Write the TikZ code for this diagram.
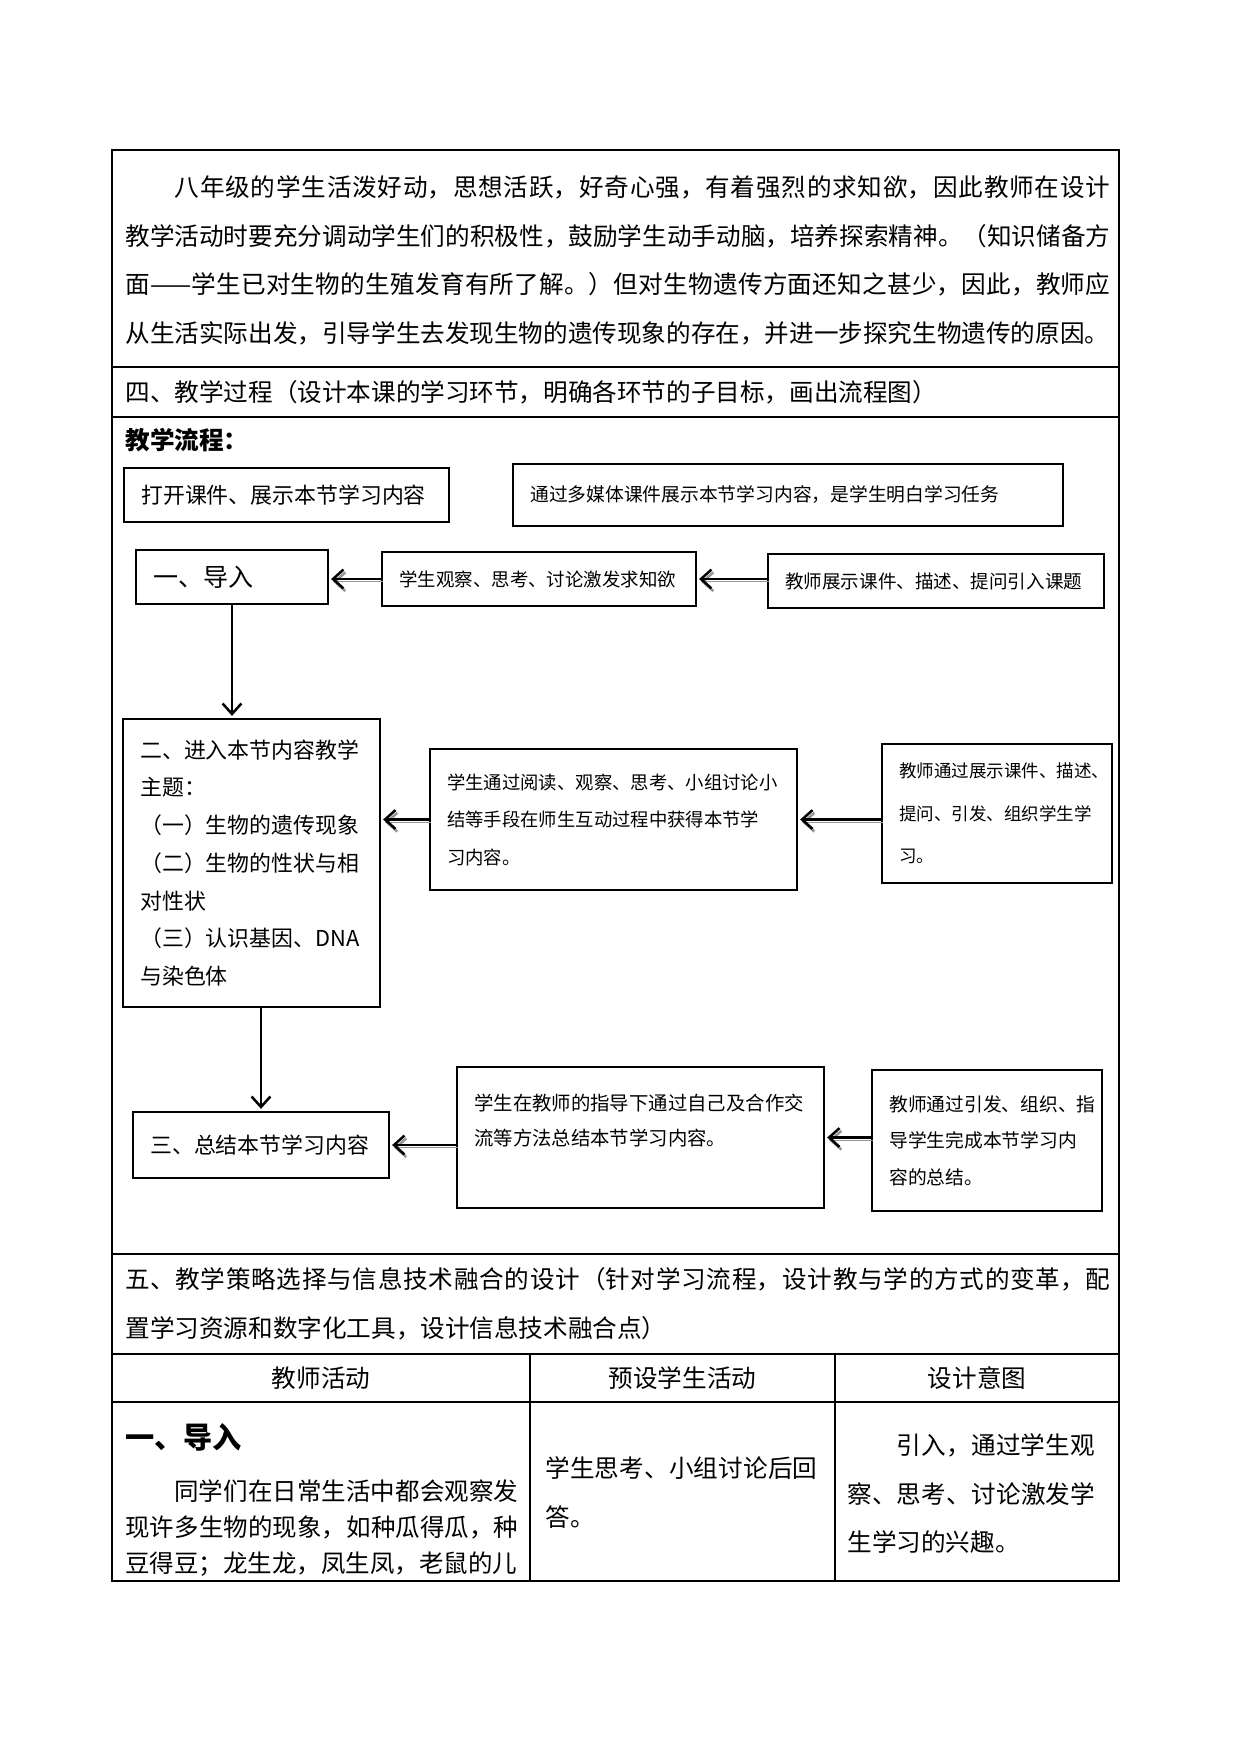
\documentclass[tikz,border=0pt]{standalone}
\usepackage{fontspec}
\setmainfont{Noto Sans CJK SC}
\usepackage{tikz}
\usetikzlibrary{arrows.meta, positioning}
\definecolor{shade}{RGB}{150,150,150}
\newcommand{\zhjust}{\XeTeXlinebreaklocale "zh"\XeTeXlinebreakskip=0pt plus 3pt\relax}

\begin{document}
\begin{tikzpicture}[x=0.4797pt, y=-0.4797pt,
  grid/.style={line width=0.8pt},
  body/.style={anchor=north west, inner sep=0pt, align=justify, font=\fontsize{11.8}{23.3}\selectfont\zhjust},
  hline/.style={anchor=west, inner sep=0pt, font=\fontsize{11.8}{14}\selectfont},
  head/.style={inner sep=0pt, font=\fontsize{11.8}{14}\selectfont},
  flowbox/.style={draw, line width=1pt, align=left, inner xsep=8.3pt, inner ysep=0pt},
  flowarrow/.style={-{Straight Barb[length=5pt,width=9pt,line width=1.2pt]}, line width=1.4pt, shorten >=1pt,
    preaction={draw=shade, transform canvas={xshift=0.9pt,yshift=-1.3pt}}},
  downarrow/.style={-{Straight Barb[length=5pt,width=9pt,line width=1.2pt]}, line width=1.2pt, shorten >=1pt},
]
  % page
  \path[fill=white] (0,0) rectangle (1241,1754);

  % table frame
  \draw[grid] (112,150) rectangle (1119,1581);
  \foreach \y in {367,417,1254,1354,1402}
    \draw[grid] (112,\y) -- (1119,\y);
  \foreach \x in {530,835}
    \draw[grid] (\x,1354) -- (\x,1581);

  % learner analysis
  \node[body, text width=472.5pt] (xueqing) at (125,175.4) {\noindent\hspace*{2em}八年级的学生活泼好动，思想活跃，好奇心强，有着强烈的求知欲，因此教师在设计\linebreak 教学活动时要充分调动学生们的积极性，鼓励学生动手动脑，培养探索精神。（知识储备方\linebreak 面——学生已对生物的生殖发育有所了解。）但对生物遗传方面还知之甚少，因此，教师应\linebreak 从生活实际出发，引导学生去发现生物的遗传现象的存在，并进一步探究生物遗传的原因。};

  % section four
  \node[hline] (guocheng) at (125,392) {四、教学过程（设计本课的学习环节，明确各环节的子目标，画出流程图）};
  \node[hline, font=\fontsize{11.8}{14}\selectfont\bfseries] (liucheng) at (125,440) {教学流程：};

  % flow chart, first row
  \node[flowbox, text width=139.3pt, minimum height=25.9pt, font=\fontsize{10.5}{12}\selectfont] (kaishi) at (286.5,495) {打开课件、展示本节学习内容};
  \node[flowbox, text width=247.2pt, minimum height=29.7pt, font=\fontsize{9}{11}\selectfont] (meiti) at (788,495) {通过多媒体课件展示本节学习内容，是学生明白学习任务};

  % flow chart, step one
  \node[flowbox, text width=75.5pt, minimum height=25.9pt, font=\fontsize{12}{14}\selectfont] (daoru) at (232,577) {一、导入};
  \node[flowbox, text width=134pt, minimum height=25.9pt, font=\fontsize{8.85}{11}\selectfont] (guancha) at (539,579) {学生观察、思考、讨论激发求知欲};
  \node[flowbox, text width=144.6pt, minimum height=25.9pt, font=\fontsize{8.9}{11}\selectfont] (zhanshi) at (936,581) {教师展示课件、描述、提问引入课题};

  % flow chart, step two
  \node[flowbox, text width=106.7pt, minimum height=138.2pt, font=\fontsize{10.5}{18.1}\selectfont] (zhuti) at (251.5,863) {二、进入本节内容教学\\主题：\\（一）生物的遗传现象\\（二）生物的性状与相\\对性状\\（三）认识基因、DNA\\与染色体};
  \node[flowbox, text width=159.5pt, minimum height=67.6pt, font=\fontsize{8.8}{18}\selectfont] (yuedu) at (613.5,819.5) {学生通过阅读、观察、思考、小组讨论小\\结等手段在师生互动过程中获得本节学\\习内容。};
  \node[flowbox, text width=93.7pt, minimum height=66.7pt, font=\fontsize{8.4}{20.4}\selectfont] (yindao) at (997,813.5) {\mbox{教师通过展示课件、描述、}\\\mbox{提问、引发、组织学生学}\\习。};

  % flow chart, step three
  \node[flowbox, text width=106.2pt, minimum height=31.7pt, font=\fontsize{10.5}{12}\selectfont] (zongjie) at (261,1145) {三、总结本节学习内容};
  \node[flowbox, text width=159.5pt, minimum height=67.6pt, font=\fontsize{9.3}{16.8}\selectfont] (hezuo) at (640.5,1137.5) {学生在教师的指导下通过自己及合作交\\流等方法总结本节学习内容。\\\mbox{}};
  \node[flowbox, text width=93.7pt, minimum height=67.6pt, font=\fontsize{9}{17.5}\selectfont] (zhidao) at (987,1140.5) {\mbox{教师通过引发、组织、指}\\\mbox{导学生完成本节学习内}\\容的总结。};

  % connectors
  \draw[flowarrow] (guancha.west) -- (guancha.west -| daoru.east);
  \draw[flowarrow] (guancha.east -| zhanshi.west) -- (guancha.east);
  \draw[downarrow] (daoru.south) -- (daoru.south |- zhuti.north);
  \draw[flowarrow] (yuedu.west) -- (yuedu.west -| zhuti.east);
  \draw[flowarrow] (yuedu.east -| yindao.west) -- (yuedu.east);
  \draw[downarrow] (zongjie.north |- zhuti.south) -- (zongjie.north);
  \draw[flowarrow] (zongjie.east -| hezuo.west) -- (zongjie.east);
  \draw[flowarrow] (hezuo.east -| zhidao.west) -- (hezuo.east);

  % section five
  \node[body, text width=472.5pt, font=\fontsize{11.8}{23.5}\selectfont\zhjust] (celue) at (125,1267.4) {\noindent 五、教学策略选择与信息技术融合的设计（针对学习流程，设计教与学的方式的变革，配\linebreak 置学习资源和数字化工具，设计信息技术融合点）};

  % column heads
  \node[head] (jiaoshi) at (321,1378) {教师活动};
  \node[head] (xuesheng) at (682.5,1378) {预设学生活动};
  \node[head] (sheji) at (977,1378) {设计意图};

  % first row
  \node[hline, font=\fontsize{14}{16}\selectfont\bfseries] (daorutitle) at (125,1437) {一、导入};
  \node[body, text width=188.5pt, font=\fontsize{11.75}{17.45}\selectfont\zhjust] (huodong) at (125,1479) {\noindent\hspace*{2em}同学们在日常生活中都会观察发\linebreak 现许多生物的现象，如种瓜得瓜，种\linebreak 豆得豆；龙生龙，凤生凤，老鼠的儿};
  \node[body, text width=130.5pt] (huida) at (545,1456.4) {\noindent 学生思考、小组讨论后回\linebreak 答。};
  \node[body, text width=119pt] (yitu) at (847,1433.4) {\noindent\hspace*{2em}引入，通过学生观\linebreak 察、思考、讨论激发学\linebreak 生学习的兴趣。};
\end{tikzpicture}
\end{document}
